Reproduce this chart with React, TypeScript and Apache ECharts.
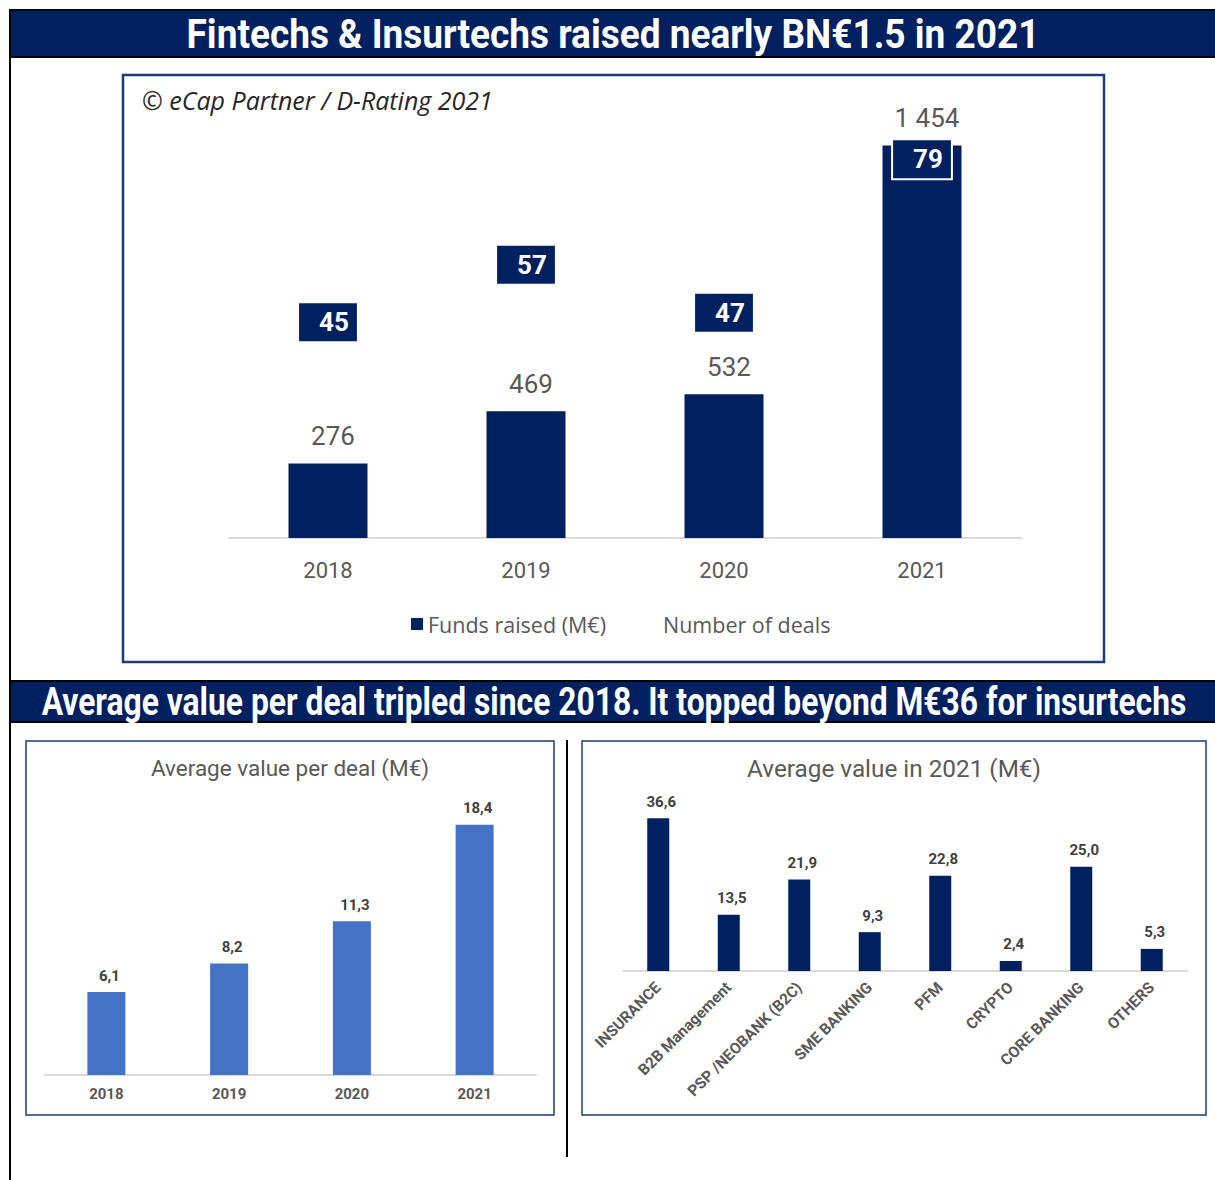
import React, { useEffect, useRef } from 'react';
import * as echarts from 'echarts';

const years = ['2018', '2019', '2020', '2021'];
const fundsRaised = [276, 469, 532, 1454];
const numberOfDeals = [45, 57, 47, 79];
const avgPerDeal = [6.1, 8.2, 11.3, 18.4];
const sectors = ['INSURANCE', 'B2B Management', 'PSP /NEOBANK (B2C)', 'SME BANKING', 'PFM', 'CRYPTO', 'CORE BANKING', 'OTHERS'];
const avg2021 = [36.6, 13.5, 21.9, 9.3, 22.8, 2.4, 25.0, 5.3];

const title1 = 'Fintechs & Insurtechs raised nearly BN€1.5 in 2021';
const title2 = 'Average value per deal tripled since 2018. It topped beyond M€36 for insurtechs';
const sourceText = '© eCap Partner / D-Rating 2021';
const subTitleLeft = 'Average value per deal (M€)';
const subTitleRight = 'Average value in 2021 (M€)';

const NAVY = '#002060';
const GRAY = '#595959';

function fitScale(text: string, font: string, target: number): number {
  const ctx = document.createElement('canvas').getContext('2d');
  if (!ctx) return 1;
  ctx.font = font;
  const w = ctx.measureText(text).width;
  return w > 0 ? target / w : 1;
}

const thousands = (v: number) => String(v).replace(/\B(?=(\d{3})+(?!\d))/g, ' ');
const decimalComma = (v: number) => v.toFixed(1).replace('.', ',');

export default function App() {
  const ref = useRef<HTMLDivElement>(null);

  useEffect(() => {
    document.body.style.margin = '0';
    if (!ref.current) return;
    const chart = echarts.init(ref.current, undefined, { renderer: 'svg' });

    const f1 = 'bold 41px Roboto';
    const f2 = 'bold 38px Roboto';
    const s1 = fitScale(title1, f1, 853);
    const s2 = fitScale(title2, f2, 1145);

    const option: any = {
      animation: false,
      backgroundColor: '#ffffff',
      graphic: [
        { type: 'line', shape: { x1: 10, y1: 10, x2: 10, y2: 1180 }, style: { stroke: '#000', lineWidth: 2 } },
        { type: 'rect', shape: { x: 10, y: 10, width: 1210, height: 47 }, style: { fill: NAVY, stroke: '#000', lineWidth: 2 } },
        {
          type: 'text', x: 613, y: 34, scaleX: s1,
          style: { text: title1, fill: '#fff', fontSize: 41, fontWeight: 'bold', fontFamily: 'Roboto', align: 'center', verticalAlign: 'middle' },
        },
        { type: 'rect', shape: { x: 123, y: 75, width: 981, height: 587 }, style: { fill: 'none', stroke: '#1f3a78', lineWidth: 2.5 } },
        {
          type: 'text', x: 142, y: 100,
          style: { text: sourceText, fill: '#262626', fontSize: 25, fontStyle: 'italic', fontFamily: 'Open Sans', align: 'left', verticalAlign: 'middle' },
        },
        { type: 'rect', shape: { x: 10, y: 681, width: 1210, height: 41 }, style: { fill: NAVY, stroke: '#000', lineWidth: 2 } },
        {
          type: 'text', x: 614, y: 702, scaleX: s2,
          style: { text: title2, fill: '#fff', fontSize: 38, fontWeight: 'bold', fontFamily: 'Roboto', align: 'center', verticalAlign: 'middle' },
        },
        { type: 'rect', shape: { x: 26, y: 741, width: 528, height: 374 }, style: { fill: 'none', stroke: '#1f3a78', lineWidth: 1.5 } },
        { type: 'rect', shape: { x: 582, y: 741, width: 624, height: 374 }, style: { fill: 'none', stroke: '#1f3a78', lineWidth: 1.5 } },
        { type: 'line', shape: { x1: 567, y1: 740, x2: 567, y2: 1157 }, style: { stroke: '#000', lineWidth: 2 } },
        {
          type: 'text', x: 290, y: 768,
          style: { text: subTitleLeft, fill: GRAY, fontSize: 22.5, fontFamily: 'Roboto', align: 'center', verticalAlign: 'middle' },
        },
        {
          type: 'text', x: 894, y: 768,
          style: { text: subTitleRight, fill: GRAY, fontSize: 24.3, fontFamily: 'Roboto', align: 'center', verticalAlign: 'middle' },
        },
      ],
      legend: {
        left: 406, top: 608, itemWidth: 12, itemHeight: 12, itemGap: 40,
        textStyle: { fontSize: 21.5, color: GRAY, fontFamily: 'Open Sans' },
        data: [
          { name: 'Funds raised (M€)', icon: 'rect', itemStyle: { color: NAVY } },
          { name: 'Number of deals', icon: 'rect', itemStyle: { opacity: 0 } },
        ],
      },
      grid: [
        { left: 229, top: 133, width: 792, height: 405 },
        { left: 45, top: 803, width: 491, height: 272 },
        { left: 623, top: 804, width: 564, height: 167 },
      ],
      xAxis: [
        {
          type: 'category', gridIndex: 0, data: years,
          axisLine: { lineStyle: { color: '#d9d9d9', width: 2 } }, axisTick: { show: false },
          axisLabel: { fontSize: 22, color: GRAY, fontFamily: 'Roboto', margin: 21 },
        },
        {
          type: 'category', gridIndex: 1, data: years,
          axisLine: { lineStyle: { color: '#d9d9d9', width: 2 } }, axisTick: { show: false },
          axisLabel: { fontSize: 15, fontWeight: 'bold', color: GRAY, fontFamily: 'Roboto', margin: 11 },
        },
        {
          type: 'category', gridIndex: 2, data: sectors,
          axisLine: { lineStyle: { color: '#d9d9d9', width: 2 } }, axisTick: { show: false },
          axisLabel: { fontSize: 15.5, fontWeight: 'bold', color: GRAY, fontFamily: 'Roboto', margin: 14, rotate: 45, interval: 0 },
        },
      ],
      yAxis: [
        { type: 'value', gridIndex: 0, min: 0, max: 1500, show: false },
        { type: 'value', gridIndex: 0, min: 0, max: 84.5, show: false },
        { type: 'value', gridIndex: 1, min: 0, max: 20, show: false },
        { type: 'value', gridIndex: 2, min: 0, max: 40, show: false },
      ],
      series: [
        {
          name: 'Funds raised (M€)', type: 'bar', xAxisIndex: 0, yAxisIndex: 0, data: fundsRaised,
          barWidth: 79, itemStyle: { color: NAVY },
          label: {
            show: true, position: 'top', distance: 14, offset: [5, 0], fontSize: 26, color: GRAY, fontFamily: 'Roboto',
            formatter: (p: any) => thousands(p.value),
          },
        },
        {
          name: 'Number of deals', type: 'line', xAxisIndex: 0, yAxisIndex: 1, data: numberOfDeals, z: 5,
          symbol: 'circle', symbolSize: 1, itemStyle: { color: 'rgba(0,0,0,0)' },
          lineStyle: { width: 0, opacity: 0 },
          label: {
            show: true, position: 'inside', fontSize: 26, fontWeight: 'bold', color: '#fff', fontFamily: 'Roboto',
            backgroundColor: NAVY, borderColor: '#fff', borderWidth: 2, padding: [6, 8, 6, 20], lineHeight: 26,
          },
        },
        {
          name: subTitleLeft, type: 'bar', xAxisIndex: 1, yAxisIndex: 2, data: avgPerDeal,
          barWidth: 38, itemStyle: { color: '#4472C4' },
          label: {
            show: true, position: 'top', distance: 9, offset: [3, 0], fontSize: 15, fontWeight: 'bold', color: '#404040', fontFamily: 'Roboto',
            formatter: (p: any) => decimalComma(p.value),
          },
        },
        {
          name: subTitleRight, type: 'bar', xAxisIndex: 2, yAxisIndex: 3, data: avg2021,
          barWidth: 22, itemStyle: { color: NAVY },
          label: {
            show: true, position: 'top', distance: 9, offset: [3, 0], fontSize: 15, fontWeight: 'bold', color: '#404040', fontFamily: 'Roboto',
            formatter: (p: any) => decimalComma(p.value),
          },
        },
      ],
    };

    chart.setOption(option);
    return () => chart.dispose();
  }, []);

  return <div ref={ref} style={{ width: 1215, height: 1180 }} />;
}
